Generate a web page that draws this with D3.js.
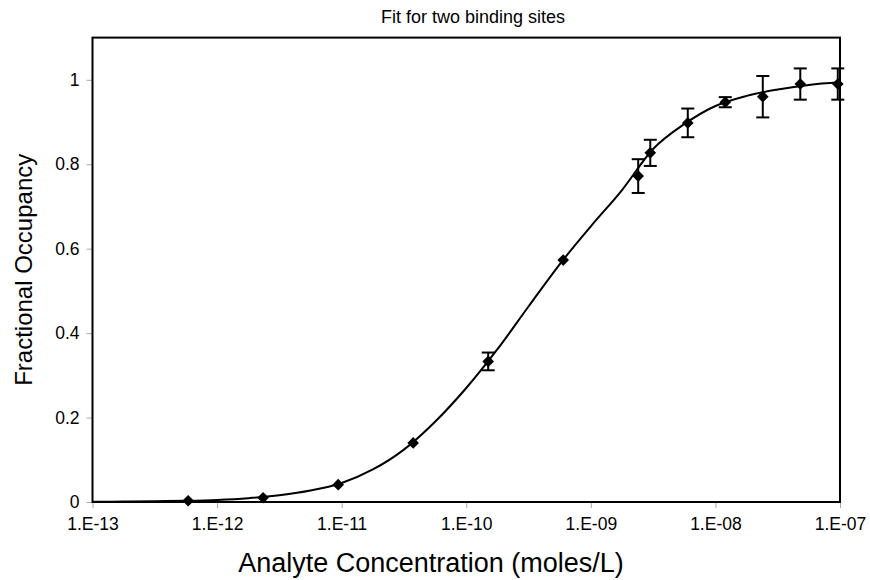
<!DOCTYPE html>
<html>
<head>
<meta charset="utf-8">
<script src="https://cdn.jsdelivr.net/npm/d3@7"></script>
<style>
  body { margin: 0; background: #fff; }
  text { font-family: "Liberation Sans", Arial, sans-serif; fill: #000; }
</style>
</head>
<body>
<svg></svg>
<script>
// measured points (moles/L) with fractional occupancy and error
var conc = [5.86e-13, 2.34e-12, 9.38e-12, 3.75e-11, 1.5e-10, 6e-10, 2.4e-9, 3e-9, 6e-9, 1.2e-8, 2.4e-8, 4.8e-8, 9.6e-8];
var occ  = [0.003, 0.010, 0.041, 0.140, 0.333, 0.573, 0.772, 0.827, 0.898, 0.947, 0.960, 0.990, 0.990];
var err  = [0, 0, 0, 0, 0.021, 0, 0.040, 0.031, 0.034, 0.012, 0.049, 0.037, 0.037];

// fitted curve at quarter decades
var fitConc = [1e-13, 1.78e-13, 3.16e-13, 5.62e-13,
               1e-12, 1.78e-12, 3.16e-12, 5.62e-12,
               1e-11, 1.78e-11, 3.16e-11, 5.62e-11,
               1e-10, 1.78e-10, 3.16e-10, 5.62e-10,
               1e-9, 1.78e-9, 3.16e-9, 5.62e-9,
               1e-8, 1.78e-8, 3.16e-8, 5.62e-8, 1e-7];
var fitOcc  = [0.0005, 0.001, 0.002, 0.003,
               0.005, 0.009, 0.016, 0.027,
               0.045, 0.077, 0.124, 0.190,
               0.270, 0.362, 0.463, 0.563,
               0.653, 0.739, 0.836, 0.895,
               0.938, 0.962, 0.977, 0.988, 0.994];

var xTicks = [1e-13, 1e-12, 1e-11, 1e-10, 1e-9, 1e-8, 1e-7];
var yTicks = [0, 0.2, 0.4, 0.6, 0.8, 1];

var width = 870, height = 580;
var margin = {top: 37.6, right: 30, bottom: 78, left: 92.5};

var svg = d3.select("svg")
    .attr("width", width)
    .attr("height", height);

var x = d3.scaleLog()
    .domain([1e-13, 1e-7])
    .range([margin.left, width - margin.right]);

var y = d3.scaleLinear()
    .domain([0, 1.1])
    .range([height - margin.bottom, margin.top]);

function sciLabel(d) {
  var e = Math.round(Math.log10(d));
  return "1.E" + (e < 0 ? "-" : "+") + String(Math.abs(e)).padStart(2, "0");
}

// axes
var xAxis = svg.append("g")
    .attr("transform", "translate(0," + (height - margin.bottom) + ")")
    .call(d3.axisBottom(x).tickValues(xTicks).tickFormat(sciLabel).tickSize(6).tickPadding(10));

var yAxis = svg.append("g")
    .attr("transform", "translate(" + margin.left + ",0)")
    .call(d3.axisLeft(y).tickValues(yTicks).tickFormat(d3.format("~g")).tickSize(6).tickPadding(7));

[xAxis, yAxis].forEach(function(g) {
  g.select(".domain").remove();
  g.selectAll(".tick line").attr("stroke", "#aaa");
  g.selectAll(".tick text").style("font-size", "17.5px").attr("fill", "#222");
});

// plot frame
svg.append("rect")
    .attr("x", margin.left)
    .attr("y", margin.top)
    .attr("width", width - margin.right - margin.left)
    .attr("height", height - margin.bottom - margin.top)
    .attr("fill", "none")
    .attr("stroke", "#000")
    .attr("stroke-width", 2);

// fit curve
var fit = fitConc.map((c, i) => ({c: c, v: fitOcc[i]}));
svg.append("path")
    .datum(fit)
    .attr("fill", "none")
    .attr("stroke", "#000")
    .attr("stroke-width", 2)
    .attr("d", d3.line().x(d => x(d.c)).y(d => y(d.v)).curve(d3.curveMonotoneX));

var pts = conc.map((c, i) => ({c: c, v: occ[i], e: err[i]}));

// error bars
var eb = svg.append("g")
    .attr("stroke", "#000")
    .attr("stroke-width", 2)
  .selectAll("g")
  .data(pts.filter(d => d.e > 0))
  .join("g");

eb.append("line")
    .attr("x1", d => x(d.c)).attr("x2", d => x(d.c))
    .attr("y1", d => y(d.v - d.e)).attr("y2", d => y(d.v + d.e));
eb.append("line")
    .attr("x1", d => x(d.c) - 6.5).attr("x2", d => x(d.c) + 6.5)
    .attr("y1", d => y(d.v + d.e)).attr("y2", d => y(d.v + d.e));
eb.append("line")
    .attr("x1", d => x(d.c) - 6.5).attr("x2", d => x(d.c) + 6.5)
    .attr("y1", d => y(d.v - d.e)).attr("y2", d => y(d.v - d.e));

// diamond markers
svg.append("g").selectAll("path")
  .data(pts)
  .join("path")
    .attr("d", d3.symbol(d3.symbolSquare, 68))
    .attr("transform", d => "translate(" + x(d.c) + "," + y(d.v) + ") rotate(45)")
    .attr("fill", "#000");

// titles
svg.append("text")
    .attr("x", 473)
    .attr("y", 23)
    .attr("text-anchor", "middle")
    .style("font-size", "18px")
    .text("Fit for two binding sites");

svg.append("text")
    .attr("x", 431)
    .attr("y", 572)
    .attr("text-anchor", "middle")
    .style("font-size", "27px")
    .text("Analyte Concentration (moles/L)");

svg.append("text")
    .attr("transform", "translate(32," + (margin.top + height - margin.bottom) / 2 + ") rotate(-90)")
    .attr("text-anchor", "middle")
    .style("font-size", "24px")
    .text("Fractional Occupancy");
</script>
</body>
</html>
